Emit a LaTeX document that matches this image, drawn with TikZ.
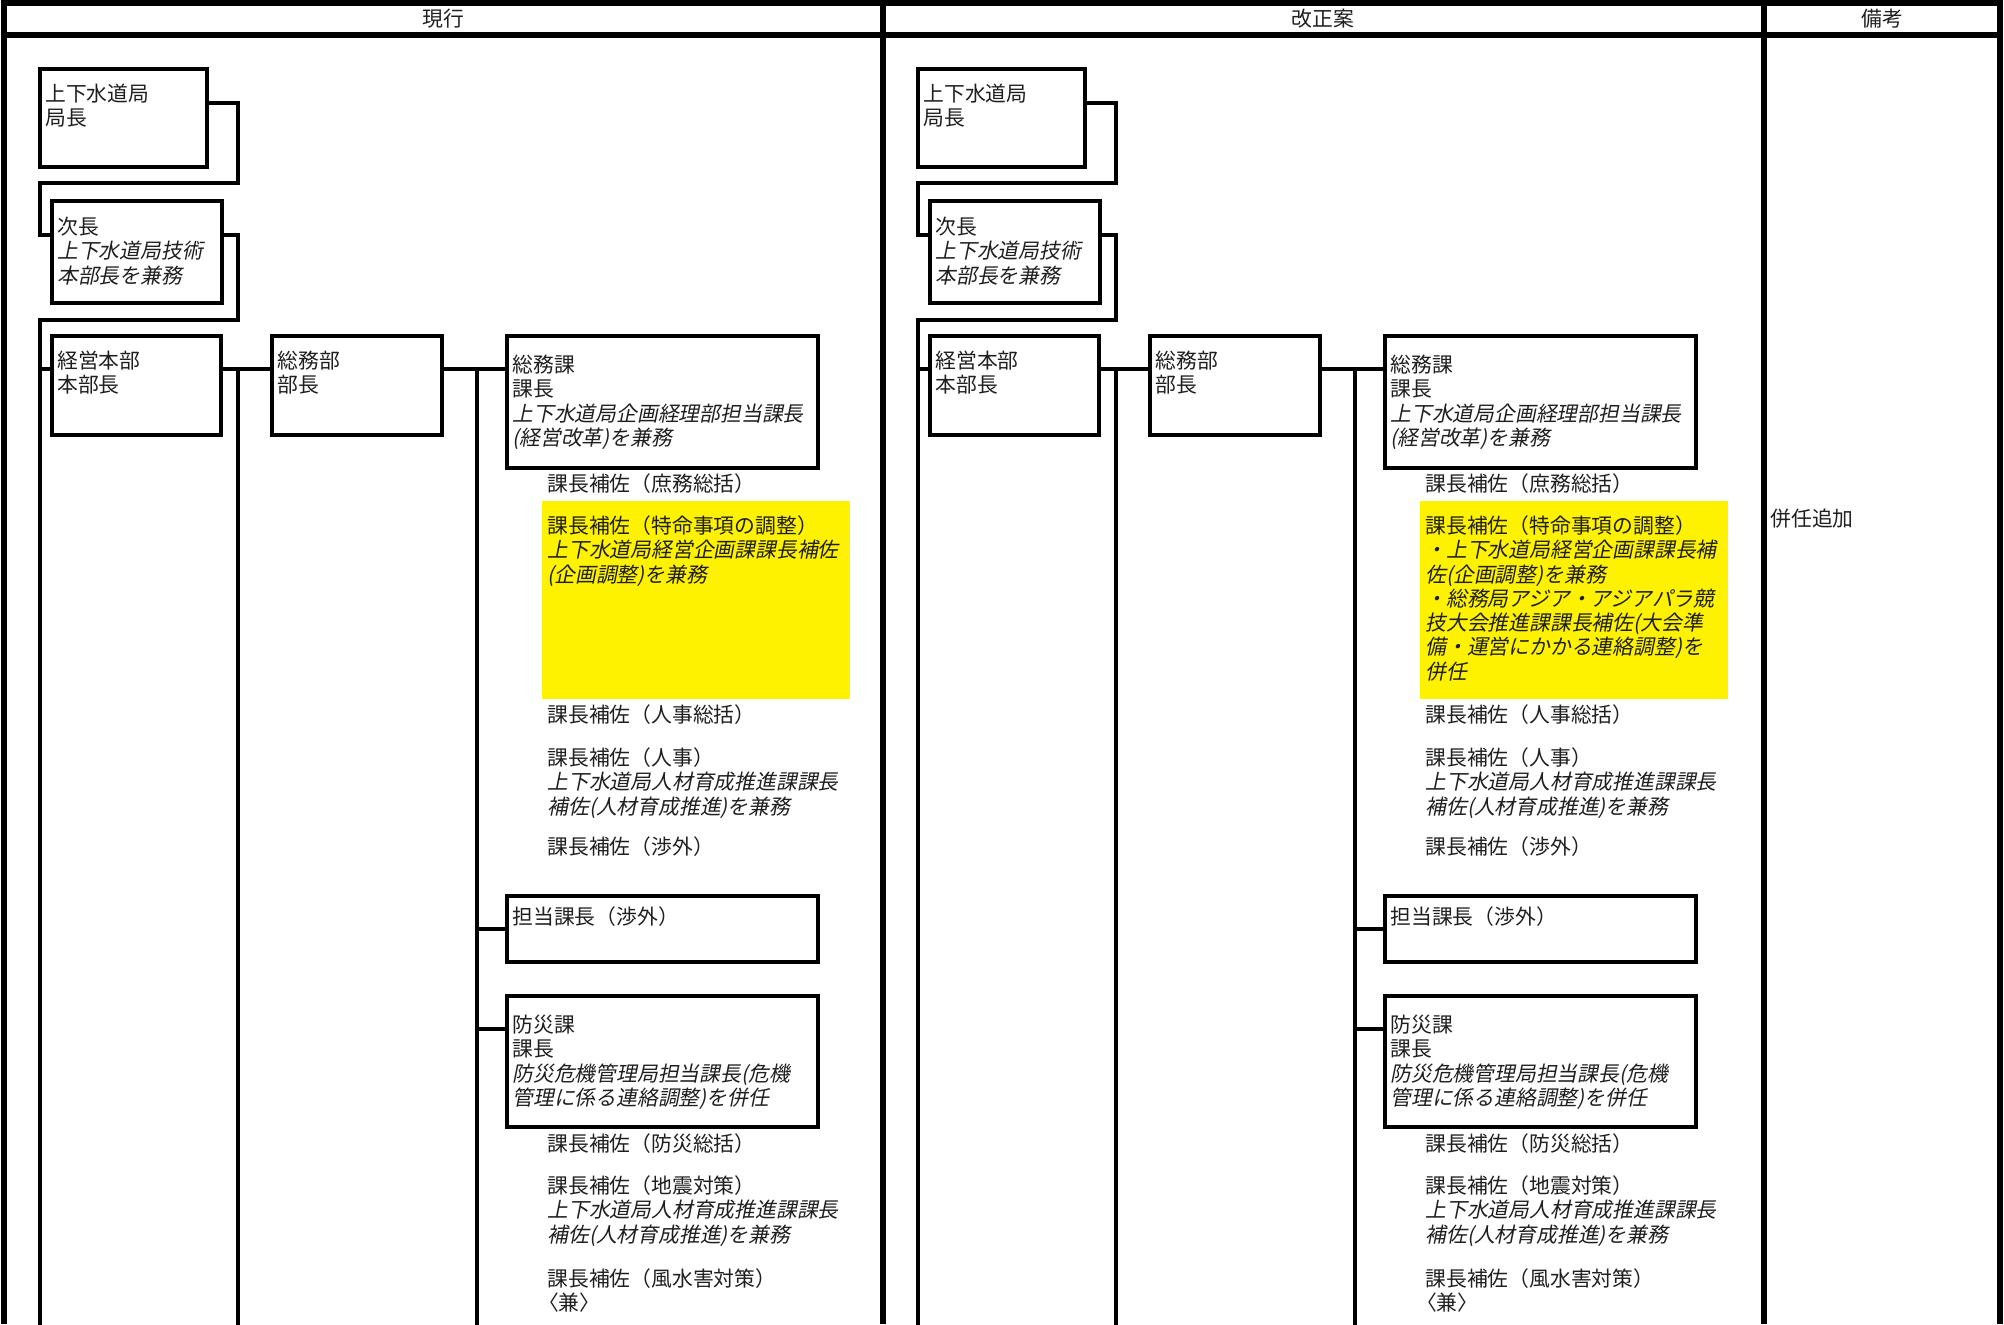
\documentclass[tikz,border=0pt]{standalone}
\usepackage{fontspec}
\usetikzlibrary{fit}
\newfontfamily\jp{Noto Sans CJK JP}
\newfontfamily\jpit[FakeSlant=0.2]{Noto Sans CJK JP}
\newcommand\st{\rule{0pt}{9pt}}
\tikzset{
  box/.style={draw, line width=2.1pt, inner sep=0pt},
  hl/.style={fill=yellow, draw=none, inner sep=0pt},
  conn/.style={line width=1.8pt, line cap=rect},
  framel/.style={line width=3pt},
  txt/.style={anchor=north west, inner sep=0pt, align=left, text=black!88, font=\jp\fontsize{10.4}{12.15}\selectfont},
  hdr/.style={anchor=center, inner sep=0pt, text=black!88, font=\jp\fontsize{10.4}{12.15}\selectfont},
}
\newcommand\orgcol[2]{%
  % highlight
  \node[hl, fit={(542,501)(850,699)}] (#1H) {};
  % boxes
  \node[box, fit={(40,69)(207,167)}] (#1A) {};
  \node[box, fit={(52,201)(222,303)}] (#1B) {};
  \node[box, fit={(52,336)(221,435)}] (#1C) {};
  \node[box, fit={(272,336)(442,435)}] (#1D) {};
  \node[box, fit={(507,336)(818,468)}] (#1E) {};
  \node[box, fit={(507,896)(818,962)}] (#1F) {};
  \node[box, fit={(507,996)(818,1127)}] (#1G) {};
  % box texts
  \node[txt] (#1At) at (45,83) {\st 上下水道局\\局長};
  \node[txt] (#1Bt) at (57,216) {\st 次長\\{\jpit 上下水道局技術}\\{\jpit 本部長を兼務}};
  \node[txt] (#1Ct) at (57,350) {\st 経営本部\\本部長};
  \node[txt] (#1Dt) at (277,350) {\st 総務部\\部長};
  \node[txt] (#1Et) at (512,354) {\st 総務課\\課長\\{\jpit 上下水道局企画経理部担当課長}\\{\jpit (経営改革)を兼務}};
  \node[txt] (#1Ft) at (512,906) {\st 担当課長（渉外）};
  \node[txt] (#1Gt) at (512,1014) {\st 防災課\\課長\\{\jpit 防災危機管理局担当課長(危機}\\{\jpit 管理に係る連絡調整)を併任}};
  % sub texts
  \node[txt] (#1s1) at (547,473) {\st 課長補佐（庶務総括）};
  \node[txt] (#1s2) at (547,515) {#2};
  \node[txt] (#1s3) at (547,704) {\st 課長補佐（人事総括）};
  \node[txt] (#1s4) at (547,747) {\st 課長補佐（人事）\\{\jpit 上下水道局人材育成推進課課長}\\{\jpit 補佐(人材育成推進)を兼務}};
  \node[txt] (#1s5) at (547,836) {\st 課長補佐（渉外）};
  \node[txt] (#1s6) at (547,1133) {\st 課長補佐（防災総括）};
  \node[txt] (#1s7) at (547,1175) {\st 課長補佐（地震対策）\\{\jpit 上下水道局人材育成推進課課長}\\{\jpit 補佐(人材育成推進)を兼務}};
  \node[txt] (#1s8) at (547,1268) {\st 課長補佐（風水害対策）\\\kern-0.45em〈兼〉};
  % free ends
  \coordinate (#1e1) at (40,1324);
  \coordinate (#1e2) at (238,1324);
  \coordinate (#1e3) at (477,1324);
  \coordinate (#1j1) at (238,369);
  \coordinate (#1j2) at (477,369);
  \coordinate (#1j0) at (40,320);
  % connectors
  \draw[conn] (#1A.east |- 0,103) -- (238,103) -- (238,183) -- (40,183) -- (40,235) -- (#1B.west |- 0,235);
  \draw[conn] (#1B.east |- 0,235) -- (238,235) -- (238,320) -- (#1j0) -- (#1e1);
  \draw[conn] (#1j0 |- 0,369) -- (#1C.west |- 0,369);
  \draw[conn] (#1C.east |- 0,369) -- (#1D.west |- 0,369);
  \draw[conn] (#1j1) -- (#1e2);
  \draw[conn] (#1D.east |- 0,369) -- (#1E.west |- 0,369);
  \draw[conn] (#1j2) -- (#1e3);
  \draw[conn] (#1j2 |- 0,929) -- (#1F.west |- 0,929);
  \draw[conn] (#1j2 |- 0,1029) -- (#1G.west |- 0,1029);
}
\begin{document}
\begin{tikzpicture}[x=0.5pt, y=-0.5pt]
\useasboundingbox (0,0) rectangle (2004,1324);
\fill[white] (0,0) rectangle (2004,1324);
% table frame
\draw[framel] (1,3) -- (2003,3);
\draw[framel] (1,35) -- (2003,35);
\draw[framel] (4,0) -- (4,1324);
\draw[framel] (883,0) -- (883,1324);
\draw[framel] (1764,0) -- (1764,1324);
\draw[framel] (2000,0) -- (2000,1324);
\node[hdr] (h1) at (443,19) {現行};
\node[hdr] (h2) at (1323,19) {改正案};
\node[hdr] (h3) at (1882,19) {備考};
% left column
\orgcol{L}{\st 課長補佐（特命事項の調整）\\{\jpit 上下水道局経営企画課課長補佐}\\{\jpit (企画調整)を兼務}}
% right column
\begin{scope}[xshift=439pt]
\orgcol{R}{\st 課長補佐（特命事項の調整）\\{\jpit ・上下水道局経営企画課課長補}\\{\jpit 佐(企画調整)を兼務}\\{\jpit ・総務局アジア・アジアパラ競}\\{\jpit 技大会推進課課長補佐(大会準}\\{\jpit 備・運営にかかる連絡調整)を}\\{\jpit 併任}}
\end{scope}
\node[txt] (note) at (1770,508) {\st 併任追加};
\end{tikzpicture}
\end{document}
